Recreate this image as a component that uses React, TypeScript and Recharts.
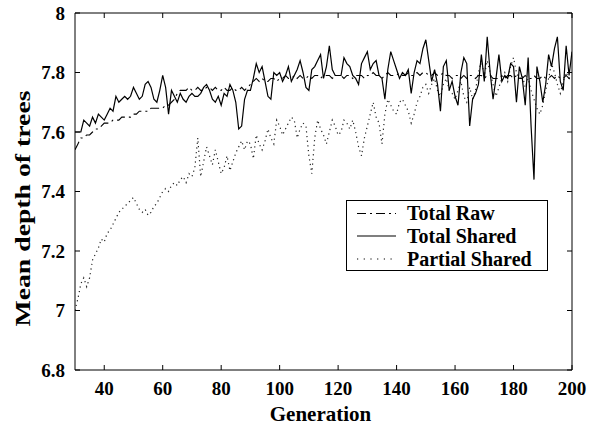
import React from 'react';
import { LineChart, Line, XAxis, YAxis } from 'recharts';

const generations = [
  30, 31, 32, 33, 34, 35, 36, 37, 38, 39,
  40, 41, 42, 43, 44, 45, 46, 47, 48, 49,
  50, 51, 52, 53, 54, 55, 56, 57, 58, 59,
  60, 61, 62, 63, 64, 65, 66, 67, 68, 69,
  70, 71, 72, 73, 74, 75, 76, 77, 78, 79,
  80, 81, 82, 83, 84, 85, 86, 87, 88, 89,
  90, 91, 92, 93, 94, 95, 96, 97, 98, 99,
  100, 101, 102, 103, 104, 105, 106, 107, 108, 109,
  110, 111, 112, 113, 114, 115, 116, 117, 118, 119,
  120, 121, 122, 123, 124, 125, 126, 127, 128, 129,
  130, 131, 132, 133, 134, 135, 136, 137, 138, 139,
  140, 141, 142, 143, 144, 145, 146, 147, 148, 149,
  150, 151, 152, 153, 154, 155, 156, 157, 158, 159,
  160, 161, 162, 163, 164, 165, 166, 167, 168, 169,
  170, 171, 172, 173, 174, 175, 176, 177, 178, 179,
  180, 181, 182, 183, 184, 185, 186, 187, 188, 189,
  190, 191, 192, 193, 194, 195, 196, 197, 198, 199,
  200,
];

const totalRaw = [
  7.54, 7.56, 7.58, 7.58, 7.59, 7.59, 7.60, 7.61, 7.61, 7.62,
  7.63, 7.63, 7.63, 7.64, 7.64, 7.64, 7.65, 7.65, 7.65, 7.65,
  7.66, 7.66, 7.67, 7.67, 7.67, 7.67, 7.68, 7.68, 7.68, 7.68,
  7.68, 7.69, 7.69, 7.70, 7.71, 7.73, 7.74, 7.74, 7.74, 7.75,
  7.74, 7.74, 7.75, 7.74, 7.74, 7.75, 7.75, 7.74, 7.75, 7.74,
  7.74, 7.75, 7.74, 7.74, 7.75, 7.74, 7.74, 7.75, 7.74, 7.75,
  7.76, 7.77, 7.78, 7.77, 7.78, 7.77, 7.77, 7.78, 7.78, 7.77,
  7.78, 7.78, 7.79, 7.78, 7.78, 7.79, 7.78, 7.79, 7.78, 7.78,
  7.79, 7.78, 7.79, 7.79, 7.78, 7.79, 7.79, 7.79, 7.78, 7.79,
  7.79, 7.79, 7.78, 7.79, 7.79, 7.78, 7.79, 7.79, 7.79, 7.78,
  7.79, 7.79, 7.80, 7.79, 7.79, 7.78, 7.79, 7.80, 7.79, 7.79,
  7.79, 7.80, 7.79, 7.79, 7.80, 7.79, 7.79, 7.80, 7.79, 7.80,
  7.80, 7.79, 7.79, 7.80, 7.79, 7.79, 7.80, 7.79, 7.79, 7.78,
  7.79, 7.79, 7.78, 7.79, 7.78, 7.79, 7.79, 7.78, 7.79, 7.79,
  7.78, 7.79, 7.79, 7.78, 7.78, 7.78, 7.79, 7.78, 7.79, 7.79,
  7.78, 7.79, 7.78, 7.78, 7.79, 7.78, 7.78, 7.79, 7.78, 7.78,
  7.79, 7.78, 7.78, 7.79, 7.78, 7.79, 7.78, 7.78, 7.79, 7.78,
  7.79,
];

const totalShared = [
  7.60, 7.60, 7.60, 7.64, 7.63, 7.62, 7.65, 7.63, 7.66, 7.65,
  7.64, 7.66, 7.68, 7.67, 7.72, 7.70, 7.71, 7.72, 7.71, 7.72,
  7.75, 7.73, 7.71, 7.72, 7.76, 7.77, 7.75, 7.71, 7.70, 7.74,
  7.79, 7.75, 7.66, 7.74, 7.72, 7.70, 7.73, 7.71, 7.70, 7.72,
  7.73, 7.72, 7.72, 7.73, 7.75, 7.76, 7.74, 7.71, 7.70, 7.72,
  7.69, 7.73, 7.72, 7.76, 7.74, 7.70, 7.61, 7.62, 7.71, 7.74,
  7.74, 7.78, 7.83, 7.80, 7.82, 7.77, 7.72, 7.71, 7.80, 7.79,
  7.80, 7.77, 7.79, 7.82, 7.77, 7.79, 7.81, 7.84, 7.80, 7.75,
  7.74, 7.81, 7.82, 7.84, 7.86, 7.78, 7.82, 7.89, 7.81, 7.79,
  7.79, 7.79, 7.85, 7.83, 7.82, 7.79, 7.78, 7.76, 7.83, 7.85,
  7.87, 7.81, 7.83, 7.84, 7.79, 7.78, 7.71, 7.81, 7.87, 7.84,
  7.81, 7.78, 7.80, 7.79, 7.81, 7.73, 7.80, 7.84, 7.83, 7.88,
  7.91, 7.84, 7.77, 7.81, 7.76, 7.67, 7.82, 7.84, 7.74, 7.77,
  7.72, 7.69, 7.80, 7.85, 7.83, 7.62, 7.71, 7.73, 7.76, 7.86,
  7.77, 7.92, 7.80, 7.71, 7.78, 7.86, 7.77, 7.79, 7.78, 7.83,
  7.82, 7.70, 7.82, 7.78, 7.69, 7.85, 7.62, 7.44, 7.82, 7.77,
  7.70, 7.76, 7.86, 7.82, 7.88, 7.92, 7.77, 7.74, 7.89, 7.79,
  7.87,
];

const partialShared = [
  7.00, 7.04, 7.09, 7.11, 7.08, 7.11, 7.17, 7.19, 7.21, 7.24,
  7.23, 7.26, 7.27, 7.29, 7.31, 7.33, 7.34, 7.35, 7.36, 7.37,
  7.38, 7.36, 7.34, 7.33, 7.34, 7.32, 7.33, 7.35, 7.36, 7.38,
  7.40, 7.41, 7.40, 7.42, 7.43, 7.42, 7.44, 7.45, 7.43, 7.46,
  7.45, 7.48, 7.58, 7.45, 7.50, 7.55, 7.52, 7.49, 7.54, 7.50,
  7.46, 7.48, 7.52, 7.47, 7.50, 7.53, 7.55, 7.57, 7.54, 7.57,
  7.56, 7.51, 7.59, 7.56, 7.54, 7.57, 7.61, 7.58, 7.56, 7.64,
  7.62, 7.59, 7.61, 7.63, 7.65, 7.64, 7.58, 7.61, 7.63, 7.62,
  7.52, 7.46, 7.58, 7.64, 7.61, 7.59, 7.56, 7.60, 7.64, 7.62,
  7.59, 7.60, 7.64, 7.63, 7.61, 7.64, 7.60, 7.55, 7.52, 7.58,
  7.62, 7.66, 7.70, 7.65, 7.63, 7.56, 7.66, 7.71, 7.69, 7.67,
  7.66, 7.70, 7.71, 7.69, 7.67, 7.63, 7.66, 7.70, 7.72, 7.75,
  7.76, 7.73, 7.76, 7.78, 7.74, 7.72, 7.76, 7.78, 7.74, 7.73,
  7.71, 7.74, 7.77, 7.72, 7.70, 7.75, 7.71, 7.74, 7.80, 7.84,
  7.79, 7.84, 7.80, 7.76, 7.72, 7.75, 7.78, 7.80, 7.77, 7.82,
  7.85, 7.80, 7.78, 7.79, 7.75, 7.78, 7.74, 7.71, 7.68, 7.66,
  7.69, 7.74, 7.78, 7.83, 7.80, 7.76, 7.73, 7.77, 7.80, 7.78,
  7.77,
];

const xTicks = [40, 60, 80, 100, 120, 140, 160, 180, 200];
const yTicks = [6.8, 7, 7.2, 7.4, 7.6, 7.8, 8];
const xDomain = [30, 200];
const yDomain = [6.8, 8];

const seriesNames = ['Total Raw', 'Total Shared', 'Partial Shared'];
const xLabel = 'Generation';
const yLabel = 'Mean depth of trees';

const data = generations.map((g, i) => ({
  gen: g,
  raw: totalRaw[i],
  shared: totalShared[i],
  partial: partialShared[i],
}));

const FONT = '"Liberation Serif", "Times New Roman", serif';
const RAW_DASH = '9 4 2 4';
const PARTIAL_DASH = '1.2 3.5';

const XTick = (props: any) => {
  const { x, y, payload } = props;
  return (
    <g>
      <line x1={x} y1={y} x2={x} y2={y - 5} stroke="#000" strokeWidth={1} />
      <text x={x} y={y + 25} textAnchor="middle" fontFamily={FONT} fontWeight="bold" fontSize={19} fill="#000">
        {payload.value}
      </text>
    </g>
  );
};

const YTick = (props: any) => {
  const { x, y, payload } = props;
  return (
    <g>
      <line x1={x} y1={y} x2={x + 5} y2={y} stroke="#000" strokeWidth={1} />
      <text x={x - 10} y={y + 6.7} textAnchor="end" fontFamily={FONT} fontWeight="bold" fontSize={19} fill="#000">
        {payload.value}
      </text>
    </g>
  );
};

const YLabel = (props: any) => {
  const vb = props.viewBox || { x: 0, y: 13, width: 75, height: 357 };
  const cx = vb.x + 23;
  const cy = vb.y + vb.height / 2 + 17;
  return (
    <text
      x={cx}
      y={cy}
      transform={`rotate(-90 ${cx} ${cy})`}
      textAnchor="middle"
      dominantBaseline="central"
      fontFamily={FONT}
      fontWeight="bold"
      fontSize={21}
      textLength={236}
      lengthAdjust="spacingAndGlyphs"
      fill="#000"
    >
      {yLabel}
    </text>
  );
};

const XLabel = (props: any) => {
  const vb = props.viewBox || { x: 75, y: 370, width: 497, height: 55 };
  const cx = vb.x + vb.width / 2 - 3;
  return (
    <text
      x={cx}
      y={vb.y + 51}
      textAnchor="middle"
      fontFamily={FONT}
      fontWeight="bold"
      fontSize={21}
      fill="#000"
    >
      {xLabel}
    </text>
  );
};

const LegendBox = () => {
  const rows = [
    { name: seriesNames[0], dash: RAW_DASH, cy: 13.5 },
    { name: seriesNames[1], dash: undefined, cy: 36 },
    { name: seriesNames[2], dash: '1.2 5.5', cy: 59 },
  ];
  return (
    <svg width={202} height={71} style={{ position: 'absolute', left: 346, top: 200, display: 'block' }}>
      <rect x={0.5} y={0.5} width={201} height={70} fill="#fff" stroke="#000" strokeWidth={1} />
      {rows.map((r) => (
        <g key={r.name}>
          <line x1={11} y1={r.cy} x2={50} y2={r.cy} stroke="#000" strokeWidth={1.2} strokeDasharray={r.dash} />
          <text x={61} y={r.cy + 6.5} fontFamily={FONT} fontWeight="bold" fontSize={20} fill="#000">
            {r.name}
          </text>
        </g>
      ))}
    </svg>
  );
};

export default function App() {
  return (
    <div style={{ position: 'absolute', left: 0, top: 0, width: 596, height: 425, background: '#fff' }}>
      <LineChart
        width={596}
        height={425}
        data={data}
        margin={{ top: 13, right: 24, bottom: 0, left: 0 }}
      >
        <XAxis
          dataKey="gen"
          type="number"
          domain={xDomain}
          ticks={xTicks}
          interval={0}
          allowDataOverflow
          height={55}
          tickSize={0}
          tickMargin={0}
          tickLine={false}
          tick={<XTick />}
          axisLine={{ stroke: '#000', strokeWidth: 1 }}
          label={<XLabel />}
        />
        <XAxis
          xAxisId="top"
          dataKey="gen"
          type="number"
          orientation="top"
          mirror
          domain={xDomain}
          ticks={xTicks}
          interval={0}
          allowDataOverflow
          height={20}
          tickSize={5}
          tickFormatter={() => ''}
          tickLine={{ stroke: '#000' }}
          axisLine={{ stroke: '#000', strokeWidth: 1 }}
        />
        <YAxis
          type="number"
          domain={yDomain}
          ticks={yTicks}
          interval={0}
          allowDataOverflow
          width={75}
          tickSize={0}
          tickMargin={0}
          tickLine={false}
          tick={<YTick />}
          axisLine={{ stroke: '#000', strokeWidth: 1 }}
          label={<YLabel />}
        />
        <YAxis
          yAxisId="right"
          type="number"
          orientation="right"
          mirror
          domain={yDomain}
          ticks={yTicks}
          interval={0}
          allowDataOverflow
          width={20}
          tickSize={5}
          tickFormatter={() => ''}
          tickLine={{ stroke: '#000' }}
          axisLine={{ stroke: '#000', strokeWidth: 1 }}
        />
        <Line
          type="linear"
          dataKey="partial"
          name={seriesNames[2]}
          stroke="#222"
          strokeWidth={1.2}
          strokeDasharray={PARTIAL_DASH}
          dot={false}
          isAnimationActive={false}
        />
        <Line
          type="linear"
          dataKey="raw"
          name={seriesNames[0]}
          stroke="#000"
          strokeWidth={1.1}
          strokeDasharray={RAW_DASH}
          dot={false}
          isAnimationActive={false}
        />
        <Line
          type="linear"
          dataKey="shared"
          name={seriesNames[1]}
          stroke="#000"
          strokeWidth={1.2}
          dot={false}
          isAnimationActive={false}
        />
      </LineChart>
      <LegendBox />
    </div>
  );
}
